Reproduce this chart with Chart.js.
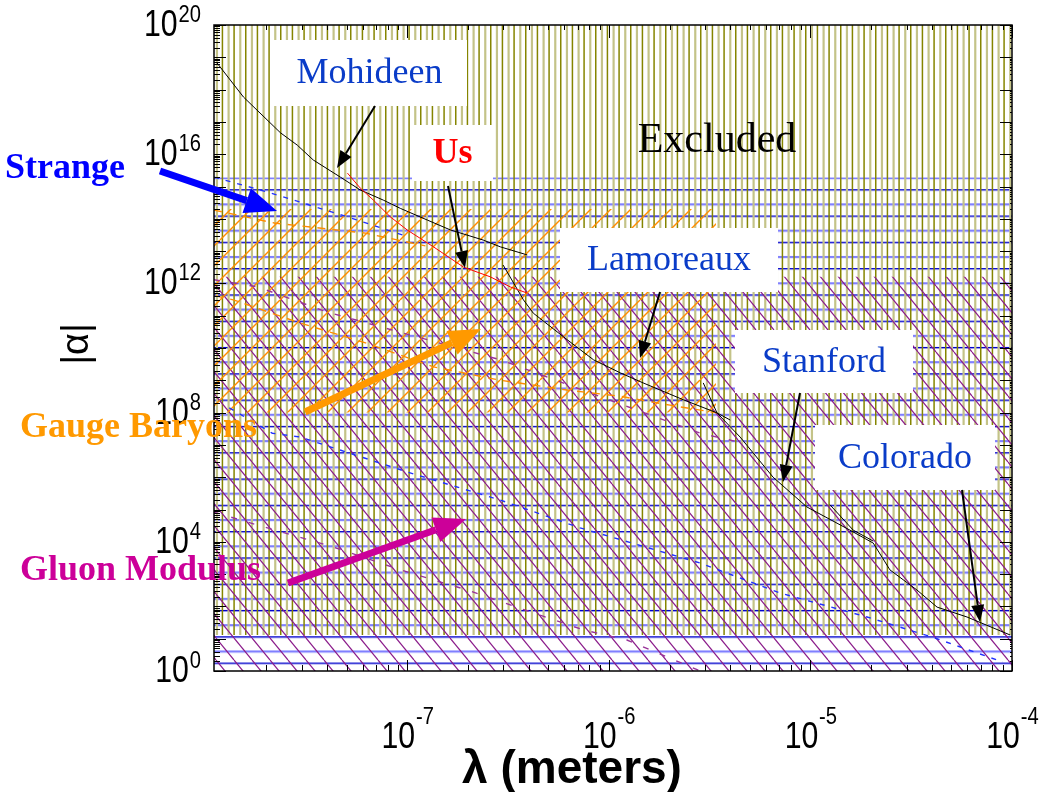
<!DOCTYPE html>
<html>
<head>
<meta charset="utf-8">
<script src="https://cdn.jsdelivr.net/npm/chart.js@4.4.1/dist/chart.umd.min.js"></script>
<style>
  html, body { margin: 0; padding: 0; background: #fff; overflow: hidden; }
  canvas { display: block; }
</style>
</head>
<body>
<canvas id="chart" width="1039" height="792"></canvas>
<script>
// axis ranges
const lambdaMin = 1.1e-8, lambdaMax = 1e-4;
const alphaMin = 1, alphaMax = 1e20;
const xTickExps = [-7, -6, -5, -4];
const yTickExps = [0, 4, 8, 12, 16, 20];

// shaded regions
const excludedFloor = 13;
const strangeTop = 1.9e15;
const gaugeTop = 2.0e14, gaugeBottom = 1e8, gaugeRight = 3.4e-6;
const gluonTop = 1.6e12;

// experimental limits (black) and our projection (red)
const mohideenLambda = [1.13e-8, 1.54e-8, 2.35e-8, 2.85e-8, 3.42e-8, 4.66e-8, 5.85e-8, 7.6e-8, 9.25e-8, 1.26e-7, 1.64e-7, 2.38e-7, 2.9e-7, 3.94e-7];
const mohideenAlpha  = [7.1e18, 5.9e17, 4.6e16, 1.9e16, 6.6e15, 1.95e15, 7.8e14, 3.8e14, 2.1e14, 9.1e13, 4.5e13, 2.2e13, 1.35e13, 7.6e12];

const lamoreauxLambda = [2.99e-7, 3.77e-7, 4.22e-7, 6.22e-7, 8.4e-7, 1.14e-6, 1.48e-6, 2.34e-6, 3.44e-6, 4.48e-6, 6.53e-6, 9.6e-6, 1.57e-5, 2.05e-5, 2.48e-5, 3.38e-5, 4.25e-5, 5.98e-5, 9.8e-5];
const lamoreauxAlpha  = [3.7e12, 3.1e11, 1.2e11, 1.8e10, 4.3e9, 1.7e9, 8.3e8, 2.5e8, 9.8e7, 1.75e7, 1.0e6, 1.2e5, 2.3e4, 9.1e3, 1.35e3, 320, 95, 47, 13];

const stanfordLambda = [2.94e-6, 3.44e-6, 4.0e-6];
const stanfordAlpha  = [8.3e8, 9.8e7, 5.9e7];

const coloradoLambda = [1.25e-5, 1.63e-5, 2.05e-5];
const coloradoAlpha  = [1.4e5, 2.3e4, 1.05e4];

const usLambda = [5.05e-8, 5.85e-8, 6.79e-8, 8.24e-8, 1.0e-7, 1.35e-7, 1.9e-7, 2.58e-7, 3.24e-7, 3.94e-7];
const usAlpha  = [2.6e15, 8.9e14, 3.8e14, 1.15e14, 4.5e13, 1.35e13, 3.2e12, 1.6e12, 7.8e11, 5.0e11];

// theory predictions (dashed)
const strangeLambdaA = [1.1e-8, 2.02e-8, 5.05e-8, 9.8e-8];
const strangeAlphaA  = [1.95e15, 6.8e14, 1.15e14, 2.95e13];
const strangeLambdaB = [1.31e-8, 2.14e-8, 2.95e-8, 1.0e-7, 2.9e-7, 7.2e-7, 2.84e-6, 7.1e-6, 1.91e-5, 4.06e-5, 9.0e-5];
const strangeAlphaB  = [1.4e8, 2.3e7, 1.75e7, 1.45e6, 1.95e5, 2.7e4, 2.2e3, 257, 47, 11, 1.9];

const gaugeLambdaA = [1.1e-8, 2.19e-8, 6.2e-8, 1.23e-7];
const gaugeAlphaA  = [1.86e14, 7.4e13, 3.6e13, 1.45e13];
const gaugeLambdaB = [1.12e-8, 1.37e-8, 2.95e-8, 6.3e-8, 1.35e-7, 2.9e-7, 6.2e-7, 1.14e-6, 2.01e-6, 3.44e-6];
const gaugeAlphaB  = [4.1e11, 3.1e11, 5.9e10, 1.4e10, 2.6e9, 1.0e9, 5.0e8, 3.2e8, 1.7e8, 9.8e7];

const gluonLambdaA = [1.1e-8, 1.81e-8, 4.0e-8, 7.4e-8, 2.9e-7, 1.6e-6, 2.84e-6, 4.6e-6];
const gluonAlphaA  = [1.3e12, 7.8e11, 1.3e11, 4.5e10, 4.3e9, 8.5e7, 2.3e7, 1.15e7];
const gluonLambdaB = [1.1e-8, 1.49e-8, 4.3e-8, 9.25e-8, 1.99e-7, 4.22e-7, 7.5e-7, 1.23e-6, 1.95e-6, 2.84e-6];
const gluonAlphaB  = [8.3e4, 4.7e4, 6.9e3, 1.35e3, 320, 63, 18.6, 9.1, 2.7, 1];

const pts = (xs, ys) => xs.map((x, i) => ({ x: x, y: ys[i] }));

function hatch(w, h, draw) {
  const c = document.createElement('canvas');
  c.width = w; c.height = h;
  const g = c.getContext('2d');
  draw(g, w, h);
  return g.createPattern(c, 'repeat');
}

const olivePattern = hatch(35, 4, (g, w, h) => {
  for (let i = 0; i < 6; i++) {
    g.fillStyle = i % 2 ? '#c4c388' : '#858500';
    g.fillRect(i * w / 6, 0, i % 2 ? 2.2 : 1.5, h);
  }
});
const bluePattern = hatch(4, 26, (g, w, h) => {
  g.fillStyle = '#8080ff';
  g.fillRect(0, 0, w, 2.2);
  g.fillStyle = '#0000cc';
  g.fillRect(0, 12, w, 1.4);
});
bluePattern.setTransform(new DOMMatrix([1, 0, 0, 26.3 / 26, 0, 177]));
const orangePattern = hatch(20, 20, (g, w, h) => {
  g.strokeStyle = '#ff8c00';
  g.lineWidth = 1.4;
  for (const o of [-w, 0, w]) {
    g.beginPath(); g.moveTo(o, h); g.lineTo(o + w, 0); g.stroke();
  }
});
const purplePattern = hatch(18, 22, (g, w, h) => {
  g.strokeStyle = '#8a1a8a';
  g.lineWidth = 1.2;
  for (const o of [-w, 0, w]) {
    g.beginPath(); g.moveTo(o, 0); g.lineTo(o + w, h); g.stroke();
  }
});

function region(xs, ys, pattern, fill, order) {
  return { data: pts(xs, ys), backgroundColor: pattern, fill: fill, borderWidth: 0,
           pointRadius: 0, order: order };
}
function curve(xs, ys, color, dash, order) {
  return { data: pts(xs, ys), borderColor: color, borderWidth: dash ? 1.4 : 1, borderDash: dash || [],
           pointRadius: 0, fill: false, tension: 0, order: order };
}

function arrow(ctx, x1, y1, x2, y2, color, lw, headLen, headW) {
  const a = Math.atan2(y2 - y1, x2 - x1);
  const bx = x2 - headLen * Math.cos(a), by = y2 - headLen * Math.sin(a);
  ctx.strokeStyle = color; ctx.lineWidth = lw;
  ctx.beginPath(); ctx.moveTo(x1, y1); ctx.lineTo(bx, by); ctx.stroke();
  ctx.fillStyle = color;
  ctx.beginPath(); ctx.moveTo(x2, y2);
  ctx.lineTo(bx + headW / 2 * Math.sin(a), by - headW / 2 * Math.cos(a));
  ctx.lineTo(bx - headW / 2 * Math.sin(a), by + headW / 2 * Math.cos(a));
  ctx.closePath(); ctx.fill();
}

const serif = '"Liberation Serif", "Times New Roman", serif';
const sans = '"Liberation Sans", Arial, sans-serif';
const boxes = [
  { text: 'Mohideen',  x: 272, y: 40,  w: 195, h: 66, color: '#0a3cc8', font: '36px ' + serif },
  { text: 'Us',        x: 412, y: 125, w: 81,  h: 56, color: '#ff0000', font: 'bold 36px ' + serif },
  { text: 'Lamoreaux', x: 560, y: 228, w: 218, h: 64, color: '#0a3cc8', font: '36px ' + serif },
  { text: 'Stanford',  x: 735, y: 330, w: 178, h: 63, color: '#0a3cc8', font: '36px ' + serif },
  { text: 'Colorado',  x: 815, y: 425, w: 180, h: 65, color: '#0a3cc8', font: '36px ' + serif }
];
const pointers = [
  [375, 106, 337, 168], [448, 186, 465, 268], [660, 292, 640, 358], [800, 393, 783, 482], [962, 490, 980, 622]
];

const decorations = {
  id: 'decorations',
  afterDatasetsDraw(chart) {
    const ctx = chart.ctx;
    const area = chart.chartArea;
    ctx.save();
    // "Excluded"
    ctx.fillStyle = '#000';
    ctx.font = '42px ' + serif;
    ctx.textAlign = 'center'; ctx.textBaseline = 'middle';
    ctx.fillText('Excluded', 717, 141);
    // label boxes
    boxes.forEach(b => {
      ctx.fillStyle = '#fff';
      ctx.fillRect(b.x, b.y, b.w, b.h);
      ctx.fillStyle = b.color;
      ctx.font = b.font;
      ctx.fillText(b.text, b.x + b.w / 2, b.y + b.h / 2 + 1);
    });
    pointers.forEach(p => arrow(ctx, p[0], p[1], p[2], p[3], '#000', 2, 17, 13));

    // ticks
    const xs = chart.scales.x, ys = chart.scales.y;
    ctx.strokeStyle = '#000'; ctx.lineWidth = 1;
    ctx.beginPath();
    for (let e = -9; e <= -4; e++) {
      for (let m = 1; m <= 9; m++) {
        const v = m * Math.pow(10, e);
        if (v < lambdaMin || v > lambdaMax * 1.0001) continue;
        const px = Math.round(xs.getPixelForValue(v)) + 0.5;
        const big = m === 1;
        ctx.moveTo(px, area.bottom); ctx.lineTo(px, area.bottom - (big ? 11 : 6));
        ctx.moveTo(px, area.top); ctx.lineTo(px, area.top + (big ? 13 : 5));
      }
    }
    for (let e = 0; e <= 20; e++) {
      for (let m = 1; m <= 9; m++) {
        const v = m * Math.pow(10, e);
        if (v > alphaMax * 1.0001) continue;
        const py = Math.round(ys.getPixelForValue(v)) + 0.5;
        const big = m === 1;
        ctx.moveTo(area.left, py); ctx.lineTo(area.left + (big ? 12 : 6), py);
        ctx.moveTo(area.right, py); ctx.lineTo(area.right - (big ? 12 : 2), py);
      }
    }
    ctx.stroke();
    ctx.lineWidth = 1.5;
    ctx.strokeRect(area.left, area.top, area.right - area.left, area.bottom - area.top);

    // tick labels: condensed "10" with raised exponent
    const squeeze = 0.84;
    const baseFont = '36px ' + sans;
    const supFont = '24px ' + sans;
    ctx.fillStyle = '#000';
    ctx.textAlign = 'left';
    function pow(exp, x, y, align, supRise) {
      ctx.font = baseFont; const bw = ctx.measureText('10').width * squeeze;
      ctx.font = supFont; const sw = ctx.measureText(String(exp)).width * squeeze;
      const left = align === 'right' ? x - bw - sw : x - (bw + sw) / 2;
      ctx.save();
      ctx.translate(left, y); ctx.scale(squeeze, 1);
      ctx.font = baseFont; ctx.textBaseline = 'middle';
      ctx.fillText('10', 0, 0);
      ctx.font = supFont; ctx.textBaseline = 'alphabetic';
      ctx.fillText(String(exp), bw / squeeze + 1, -supRise);
      ctx.restore();
    }
    yTickExps.forEach(e => pow(e, 200, ys.getPixelForValue(Math.pow(10, e)) + 1, 'right', 4));
    xTickExps.forEach(e => pow(e, xs.getPixelForValue(Math.pow(10, e)), 738, 'center', 14));

    // axis titles
    ctx.textAlign = 'center'; ctx.textBaseline = 'middle';
    ctx.font = 'bold 46px ' + sans;
    ctx.fillText('\u03bb (meters)', 572, 770);
    ctx.save();
    ctx.translate(78, 344); ctx.rotate(-Math.PI / 2);
    ctx.font = '38px ' + sans;
    ctx.fillText('|\u03b1|', 0, 0);
    ctx.restore();

    // theory labels and arrows
    ctx.textAlign = 'left';
    ctx.font = 'bold 36px ' + serif;
    ctx.fillStyle = '#0000ff'; ctx.fillText('Strange', 5, 169);
    ctx.fillStyle = '#ff9900'; ctx.fillText('Gauge Baryons', 20, 428);
    ctx.fillStyle = '#cc0099'; ctx.fillText('Gluon Modulus', 20, 571);
    arrow(ctx, 160, 171, 277, 211, '#0000ff', 7, 32, 26);
    arrow(ctx, 305, 412, 481, 329, '#ff9900', 7, 32, 26);
    arrow(ctx, 288, 583, 466, 519, '#cc0099', 7, 32, 26);
    ctx.restore();
  }
};

new Chart(document.getElementById('chart'), {
  type: 'line',
  data: {
    datasets: [
      curve(usLambda, usAlpha, '#ff0000', null, 1),
      curve(mohideenLambda, mohideenAlpha, '#000', null, 2),
      curve(lamoreauxLambda, lamoreauxAlpha, '#000', null, 2),
      curve(stanfordLambda, stanfordAlpha, '#000', null, 2),
      curve(coloradoLambda, coloradoAlpha, '#000', null, 2),
      curve(strangeLambdaA, strangeAlphaA, '#2030ff', [5, 7], 3),
      curve(strangeLambdaB, strangeAlphaB, '#2030ff', [5, 7], 3),
      curve(gaugeLambdaA, gaugeAlphaA, '#ff8c00', [8, 7], 3),
      curve(gaugeLambdaB, gaugeAlphaB, '#ff8c00', [8, 7], 3),
      curve(gluonLambdaA, gluonAlphaA, '#993399', [6, 12], 3),
      curve(gluonLambdaB, gluonAlphaB, '#993399', [6, 12], 3),
      region([lambdaMin, gaugeRight], [gaugeTop, gaugeTop], orangePattern, { value: gaugeBottom }, 6),
      region([lambdaMin, lambdaMax], [gluonTop, gluonTop], purplePattern, 'start', 7),
      region([lambdaMin, lambdaMax], [excludedFloor, excludedFloor], olivePattern, 'end', 8),
      region([lambdaMin, lambdaMax], [strangeTop, strangeTop], bluePattern, 'start', 9)
    ]
  },
  options: {
    responsive: false,
    animation: false,
    layout: { padding: { left: 214, top: 25, right: 27, bottom: 121 } },
    plugins: { legend: { display: false }, tooltip: { enabled: false } },
    scales: {
      x: { type: 'logarithmic', min: lambdaMin, max: lambdaMax, display: false },
      y: { type: 'logarithmic', min: alphaMin, max: alphaMax, display: false }
    }
  },
  plugins: [decorations]
});
</script>
</body>
</html>
